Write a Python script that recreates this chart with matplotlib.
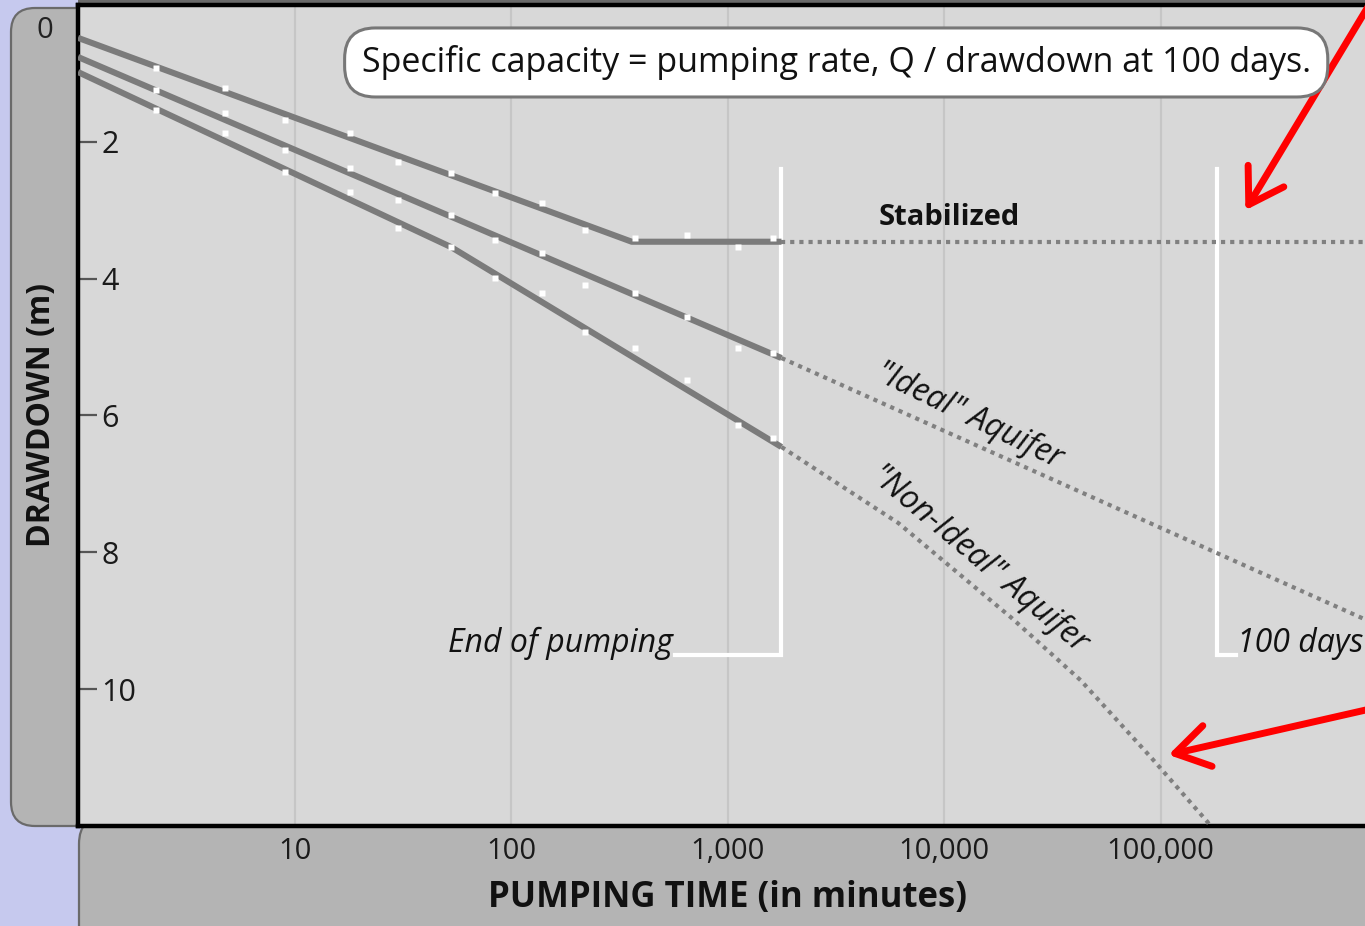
import numpy as np
import matplotlib.pyplot as plt
from matplotlib.patches import FancyBboxPatch, Rectangle
from matplotlib.transforms import IdentityTransform

plt.rcParams['font.family'] = ['Open Sans', 'DejaVu Sans']

# ---- data (time in minutes, drawdown in m) ----
# "Stabilized" well
stab_t = [1, 361, 1775]
stab_d = [0.48, 3.46, 3.46]
stab_dot_t = [1775, 880000]
stab_dot_d = [3.46, 3.46]

# "Ideal" aquifer
ideal_t = [1, 1775]
ideal_d = [0.76, 5.16]
ideal_dot_t = [1775, 880000]
ideal_dot_d = [5.16, 8.98]

# "Non-ideal" aquifer
nonideal_t = [1, 53, 1775]
nonideal_d = [0.98, 3.54, 6.46]
nonideal_dot_t = [1775, 6140, 20370, 42760, 89950, 164800, 200000]
nonideal_dot_d = [6.46, 7.57, 8.95, 9.87, 10.99, 11.94, 12.35]

# measured points (white dots)
obs_t = [2.3, 4.8, 9, 18, 30, 53, 84, 139, 219, 372, 647, 1122, 1630]
obs_stab = [0.92, 1.21, 1.68, 1.87, 2.30, 2.46, 2.75, 2.89, 3.29, 3.41, 3.36, 3.54, 3.41]
obs_ideal = [1.24, 1.58, 2.12, 2.38, 2.85, 3.07, 3.44, 3.63, 4.09, 4.21, 4.56, 5.01, 5.09]
obs_nonideal = [1.54, 1.87, 2.44, 2.73, 3.26, 3.54, 3.99, 4.21, 4.78, 5.01, 5.48, 6.14, 6.33]

x_ticks = [10, 100, 1000, 10000, 100000]
x_labels = ['10', '100', '1,000', '10,000', '100,000']
y_ticks = [2, 4, 6, 8, 10]

END_PUMPING = 1775
DAYS_100 = 182000

W, H = 1365, 926
LINE = '#7b7b7b'
BG = '#d8d8d8'
PANEL = '#b4b4b4'

fig = plt.figure(figsize=(W / 100, H / 100), dpi=100, facecolor='#c6c9ee')

# frame panels in pixel coordinates (origin bottom-left)
px = IdentityTransform()
for p in [
    FancyBboxPatch((11, 100), 90, 818, boxstyle='round,pad=0,rounding_size=24',
                   fc=PANEL, ec='#6a6a6a', lw=1.6),
    FancyBboxPatch((79, -40), 1400, 150, boxstyle='round,pad=0,rounding_size=28',
                   fc=PANEL, ec='#6a6a6a', lw=1.6),
    Rectangle((78, 918), 1400, 20, fc='#6a6a6a', ec='none'),
]:
    p.set_transform(px)
    p.set_zorder(-5)
    p.set_figure(fig)
    fig.patches.append(p)

ax = fig.add_axes([78 / W, 100 / H, (W - 78) / W, 821 / H])
ax.set_facecolor(BG)
ax.set_xscale('log')
ax.set_xlim(1, 880000)
ax.set_ylim(12, 0)

for s in ['top', 'left', 'bottom']:
    ax.spines[s].set_linewidth(3.2)
    ax.spines[s].set_color('black')
ax.spines['right'].set_visible(False)

ax.set_xticks(x_ticks)
ax.set_xticklabels(x_labels)
ax.xaxis.set_minor_locator(plt.NullLocator())
ax.tick_params(axis='x', length=0, pad=8, labelsize=21, labelcolor='#1a1a1a')
ax.grid(axis='x', color='#c6c6c6', lw=1.6, zorder=0)

ax.set_yticks(y_ticks)
ax.set_yticklabels([str(v) for v in y_ticks])
ax.tick_params(axis='y', direction='in', length=14, width=1.6, color='#555555',
               pad=-17, labelsize=22, labelcolor='#1a1a1a')
for lbl in ax.get_yticklabels():
    lbl.set_horizontalalignment('left')
fig.text(45, 896, '0', transform=px, ha='center', va='center', fontsize=21, color='#222222')

# curves
dotted = dict(color='#808080', lw=3.0, ls=(0, (1, 1.2)), solid_capstyle='butt',
              dash_capstyle='butt', zorder=3)
for t, d in [(stab_t, stab_d), (ideal_t, ideal_d), (nonideal_t, nonideal_d)]:
    ax.plot(t, d, color=LINE, lw=4.4, zorder=3, solid_capstyle='butt')
ax.plot(stab_dot_t, stab_dot_d, **dotted)
ax.plot(ideal_dot_t, ideal_dot_d, **dotted)
ax.plot(nonideal_dot_t, nonideal_dot_d, **dotted)
for obs in [obs_stab, obs_ideal, obs_nonideal]:
    ax.plot(obs_t, obs, ls='none', marker='s', ms=4.2, mfc='white', mec='none', zorder=4)

# white brackets
ax.plot([END_PUMPING, END_PUMPING, 570], [2.4, 9.5, 9.5], color='white', lw=3, zorder=2,
        solid_joinstyle='miter')
ax.plot([DAYS_100, DAYS_100, 222000], [2.4, 9.5, 9.5], color='white', lw=3, zorder=2,
        solid_joinstyle='miter')
ax.text(560, 9.33, 'End of pumping', style='italic', fontsize=23, ha='right', va='center',
        color='#111111')
ax.text(226000, 9.33, '100 days', style='italic', fontsize=23, ha='left', va='center',
        color='#111111')

ax.text(3177, 0.84, 'Specific capacity = pumping rate, Q / drawdown at 100 days.',
        fontsize=24.5, ha='center', va='center', color='#111111', zorder=5,
        bbox=dict(boxstyle='round,pad=0.5,rounding_size=0.9', fc='white', ec='#777777', lw=2.2))
ax.text(10544, 3.10, 'Stabilized', fontsize=21, fontweight='bold', ha='center', va='center',
        color='#111111')
ax.text(13000, 6.0, '"Ideal" Aquifer', fontsize=23, style='italic', rotation=-26,
        ha='center', va='center', color='#111111', rotation_mode='anchor')
ax.text(14500, 8.1, '"Non-Ideal" Aquifer', fontsize=23, style='italic', rotation=-40,
        ha='center', va='center', color='#111111', rotation_mode='anchor')

# red arrows
arrow = dict(arrowstyle='->,head_length=0.8,head_width=0.5', color='#ff0000', lw=5,
             shrinkA=0, shrinkB=0, mutation_scale=30)
ax.annotate('', xy=(246600, 3.0), xytext=(960000, -0.1), arrowprops=arrow, annotation_clip=False)
ax.annotate('', xy=(108900, 10.96), xytext=(960000, 10.28), arrowprops=arrow,
            annotation_clip=False)

fig.text(728, 28, 'PUMPING TIME (in minutes)', transform=px, ha='center', va='center',
         fontsize=25, fontweight='bold', color='#111111')
fig.text(42, 511, 'DRAWDOWN (m)', transform=px, ha='center', va='center', rotation=90,
         fontsize=23, fontweight='bold', color='#111111')

fig.savefig('out.png', dpi=100, facecolor=fig.get_facecolor())
